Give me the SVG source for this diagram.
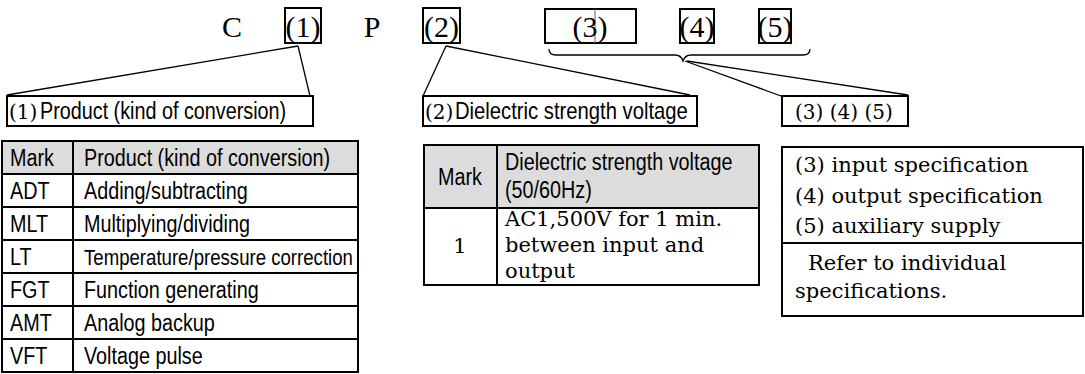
<svg xmlns="http://www.w3.org/2000/svg" width="1085" height="374" viewBox="0 0 1085 374">
<style>
.top{font-family:"Liberation Serif",serif;font-size:30px;fill:#000}
.ser{font-family:"DejaVu Serif","Liberation Serif",serif;font-size:20px;fill:#000}
.body{font-family:"DejaVu Serif","Liberation Serif",serif;font-size:21px;fill:#000}
.sans{font-family:"Liberation Sans",Arial,sans-serif;font-size:23px;fill:#000}
.box{fill:none;stroke:#000;stroke-width:2}
.cell{stroke:#000;stroke-width:2}
.hdr{fill:#dcdcdc}
.con{fill:none;stroke:#000;stroke-width:1.3}
</style>
<g id="code">
<text class="top" x="232" y="37" text-anchor="middle">C</text>
<rect class="box" x="285" y="8" width="36" height="35"/>
<text class="top" x="303" y="37" text-anchor="middle">(1)</text>
<text class="top" x="372" y="37" text-anchor="middle">P</text>
<rect class="box" x="423" y="8" width="37" height="35"/>
<text class="top" x="441.5" y="37" text-anchor="middle">(2)</text>
<rect class="box" x="545" y="9" width="91" height="34"/>
<line x1="595" y1="9" x2="595" y2="43" stroke="#666" stroke-width="1"/>
<text class="top" x="590" y="37" text-anchor="middle">(3)</text>
<rect class="box" x="680" y="9" width="34" height="34"/>
<text class="top" x="697" y="37" text-anchor="middle">(4)</text>
<rect class="box" x="759" y="9" width="32" height="34"/>
<text class="top" x="775" y="37" text-anchor="middle">(5)</text>
</g>
<g id="connectors">
<path class="con" d="M549,49 Q549,55 556,55 L675,55 Q681,55 683,61 Q685,55 691,55 L803,55 Q810,55 810,49"/>
<line class="con" x1="298" y1="46" x2="7" y2="95"/>
<line class="con" x1="298" y1="46" x2="310" y2="96"/>
<line class="con" x1="446" y1="46" x2="423" y2="96"/>
<line class="con" x1="446" y1="46" x2="690" y2="95"/>
<line class="con" x1="685" y1="61" x2="781" y2="96"/>
<line class="con" x1="687" y1="61" x2="908" y2="95"/>
</g>
<g id="label1">
<rect class="box" x="7" y="96" width="306" height="30"/>
<text class="ser" x="9" y="119">(1)</text>
<text class="sans" transform="translate(40,119) scale(0.86,1)">Product (kind of conversion)</text>
</g>
<g id="label2">
<rect class="box" x="423" y="96" width="274" height="30"/>
<text class="ser" x="425" y="119">(2)</text>
<text class="sans" transform="translate(455,119) scale(0.88,1)">Dielectric strength voltage</text>
</g>
<g id="label3">
<rect class="box" x="782" y="96" width="126" height="30"/>
<text class="ser" x="795" y="119">(3) (4) (5)</text>
</g>
<g id="table1">
<rect class="hdr" x="2" y="141" width="356" height="33"/>
<rect class="box" x="2" y="141" width="356" height="231"/>
<line class="cell" x1="73" y1="141" x2="73" y2="372"/>
<line class="cell" x1="2" y1="174" x2="358" y2="174"/>
<line class="cell" x1="2" y1="207" x2="358" y2="207"/>
<line class="cell" x1="2" y1="240" x2="358" y2="240"/>
<line class="cell" x1="2" y1="273" x2="358" y2="273"/>
<line class="cell" x1="2" y1="306" x2="358" y2="306"/>
<line class="cell" x1="2" y1="339" x2="358" y2="339"/>
<text class="sans" transform="translate(10,166) scale(0.86,1)">Mark</text>
<text class="sans" transform="translate(84,166) scale(0.86,1)">Product (kind of conversion)</text>
<text class="sans" transform="translate(10,199) scale(0.86,1)">ADT</text>
<text class="sans" transform="translate(84,199) scale(0.86,1)">Adding/subtracting</text>
<text class="sans" transform="translate(10,232) scale(0.86,1)">MLT</text>
<text class="sans" transform="translate(84,232) scale(0.86,1)">Multiplying/dividing</text>
<text class="sans" transform="translate(10,265) scale(0.86,1)">LT</text>
<text class="sans" transform="translate(84,265) scale(0.81,1)">Temperature/pressure correction</text>
<text class="sans" transform="translate(10,298) scale(0.86,1)">FGT</text>
<text class="sans" transform="translate(84,298) scale(0.86,1)">Function generating</text>
<text class="sans" transform="translate(10,331) scale(0.86,1)">AMT</text>
<text class="sans" transform="translate(84,331) scale(0.86,1)">Analog backup</text>
<text class="sans" transform="translate(10,364) scale(0.86,1)">VFT</text>
<text class="sans" transform="translate(84,364) scale(0.86,1)">Voltage pulse</text>
</g>
<g id="table2">
<rect class="hdr" x="424" y="145" width="335" height="63"/>
<rect class="box" x="424" y="145" width="335" height="140"/>
<line class="cell" x1="497" y1="145" x2="497" y2="285"/>
<line class="cell" x1="424" y1="208" x2="759" y2="208"/>
<text class="sans" transform="translate(460,185) scale(0.86,1)" text-anchor="middle">Mark</text>
<text class="sans" transform="translate(505,170) scale(0.86,1)">Dielectric strength voltage</text>
<text class="sans" transform="translate(505,198) scale(0.86,1)">(50/60Hz)</text>
<text class="body" x="460" y="253" text-anchor="middle">1</text>
<text class="body" x="505" y="226">AC1,500V for 1 min.</text>
<text class="body" x="505" y="252">between input and</text>
<text class="body" x="505" y="278">output</text>
</g>
<g id="table3">
<rect class="box" x="782" y="147" width="301" height="169"/>
<line class="cell" x1="782" y1="243" x2="1083" y2="243"/>
<text class="body" x="795" y="172">(3) input specification</text>
<text class="body" x="795" y="203">(4) output specification</text>
<text class="body" x="795" y="233">(5) auxiliary supply</text>
<text class="body" x="808" y="270">Refer to individual</text>
<text class="body" x="795" y="298">specifications.</text>
</g>
</svg>
